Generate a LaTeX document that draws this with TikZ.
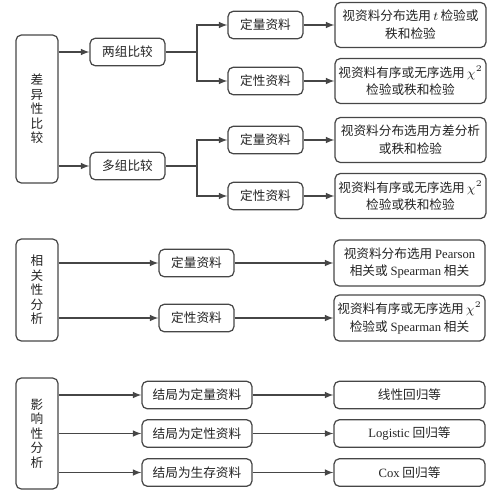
\documentclass[tikz,border=0pt]{standalone}
\usepackage{fontspec}
\setmainfont{Liberation Serif}
\newfontfamily\cjk{Noto Sans CJK SC}
\definecolor{boxline}{RGB}{70,70,70}
\definecolor{textgray}{RGB}{35,35,35}
\tikzset{
    link/.style={
        draw=boxline,
        line width=0.7pt
    }
}

\begin{document}
\begin{tikzpicture}[x=0.02cm, y=-0.02cm, >=latex]

    \tikzstyle{big} = [
        draw=boxline,
        line width=0.7pt,
        rounded corners=3pt,
        minimum width=0.84cm,
        inner sep=0pt,
        align=center,
        text=textgray,
        font=\fontsize{7.2}{8.3}\selectfont\cjk
    ]
    \tikzstyle{mid} = [
        draw=boxline,
        line width=0.7pt,
        rounded corners=3pt,
        minimum width=1.5cm,
        minimum height=0.55cm,
        inner sep=0pt,
        text=textgray,
        font=\fontsize{7.2}{9}\selectfont\cjk
    ]
    \tikzstyle{res} = [
        draw=boxline,
        line width=0.7pt,
        rounded corners=3pt,
        minimum width=3.02cm,
        minimum height=0.9cm,
        inner sep=0pt,
        align=center,
        text=textgray,
        font=\fontsize{7.2}{10.2}\selectfont\cjk
    ]

    \useasboundingbox (0,0) rectangle (499,495);

    % Différence
    \node[big, minimum height=2.96cm] (d) at (37,109) {差\\异\\性\\比\\较};
    \node[mid] (g2) at (127.5,52) {两组比较};
    \node[mid] (gm) at (127.5,166) {多组比较};
    \node[mid] (q1) at (265.5,25) {定量资料};
    \node[mid] (l1) at (265.5,81) {定性资料};
    \node[mid] (q2) at (265.5,140) {定量资料};
    \node[mid] (l2) at (265.5,196) {定性资料};
    \node[res] (r1) at (410.5,25) {视资料分布选用\,$t$\,检验或\\秩和检验};
    \node[res] (r2) at (410.5,81) {视资料有序或无序选用\,$\chi^2$\\检验或秩和检验};
    \node[res] (r3) at (410.5,140) {视资料分布选用方差分析\\或秩和检验};
    \node[res] (r4) at (410.5,196) {视资料有序或无序选用\,$\chi^2$\\检验或秩和检验};
    \coordinate (f1) at (197,52);
    \coordinate (f2) at (197,166);

    % Corrélation
    \node[big, minimum height=2.04cm] (c) at (37,290) {相\\关\\性\\分\\析};
    \node[mid] (q3) at (196.5,263) {定量资料};
    \node[mid] (l3) at (196.5,318) {定性资料};
    \node[res, minimum height=0.92cm] (r5) at (409.5,263) {视资料分布选用 {\rmfamily Pearson}\\相关或 {\rmfamily Spearman} 相关};
    \node[res, minimum height=0.92cm] (r6) at (409.5,318) {视资料有序或无序选用\,$\chi^2$\\检验或 {\rmfamily Spearman} 相关};

    % Influence
    \node[big, minimum height=2.22cm] (e) at (37,433.5) {影\\响\\性\\分\\析};
    \node[mid, minimum width=2.2cm] (o1) at (197,395) {结局为定量资料};
    \node[mid, minimum width=2.2cm] (o2) at (197,433.5) {结局为定性资料};
    \node[mid, minimum width=2.2cm] (o3) at (197,472.5) {结局为生存资料};
    \node[res, minimum height=0.55cm] (s1) at (409.5,395) {线性回归等};
    \node[res, minimum height=0.55cm] (s2) at (409.5,433.5) {{\rmfamily Logistic} 回归等};
    \node[res, minimum height=0.55cm] (s3) at (409.5,472.5) {{\rmfamily Cox} 回归等};

    % Flèches
    \draw[link, ->] (d.east |- g2) -- (g2);
    \draw[link, ->] (d.east |- gm) -- (gm);
    \draw[link] (g2) -- (f1);
    \draw[link] (gm) -- (f2);
    \draw[link, ->] (f1) |- (q1);
    \draw[link, ->] (f1) |- (l1);
    \draw[link, ->] (f2) |- (q2);
    \draw[link, ->] (f2) |- (l2);
    \draw[link, ->] (q1) -- (r1);
    \draw[link, ->] (l1) -- (r2);
    \draw[link, ->] (q2) -- (r3);
    \draw[link, ->] (l2) -- (r4);
    \draw[link, ->] (c.east |- q3) -- (q3);
    \draw[link, ->] (c.east |- l3) -- (l3);
    \draw[link, ->] (q3) -- (r5);
    \draw[link, ->] (l3) -- (r6);
    \draw[link, ->] (e.east |- o1) -- (o1);
    \draw[link, ->] (e.east |- o2) -- (o2);
    \draw[link, ->] (e.east |- o3) -- (o3);
    \draw[link, ->] (o1) -- (s1);
    \draw[link, ->] (o2) -- (s2);
    \draw[link, ->] (o3) -- (s3);

\end{tikzpicture}
\end{document}
